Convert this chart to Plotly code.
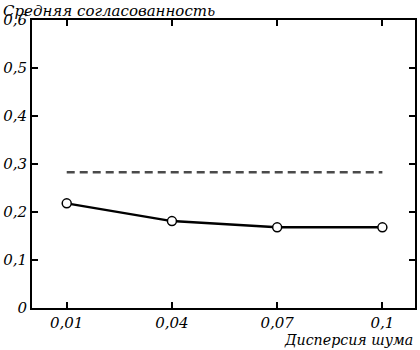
import plotly.graph_objects as go

categories = ["0,01", "0,04", "0,07", "0,1"]
consistency = [0.218, 0.181, 0.168, 0.168]
reference_level = [0.283, 0.283, 0.283, 0.283]
y_ticks = [0, 0.1, 0.2, 0.3, 0.4, 0.5, 0.6]
y_tick_labels = ["0", "0,1", "0,2", "0,3", "0,4", "0,5", "0,6"]

x_pos = list(range(len(categories)))
font = dict(family="DejaVu Serif", size=15, color="black", style="italic")
xlab_font = dict(family="DejaVu Serif", size=14.2, color="black", style="italic")

fig = go.Figure()
fig.add_trace(go.Scatter(x=x_pos, y=reference_level, mode="lines",
                         line=dict(color="#4a4a4a", width=2.5, dash="8px,5px"), showlegend=False))
fig.add_trace(go.Scatter(x=x_pos, y=consistency, mode="lines+markers",
                         line=dict(color="black", width=2.5),
                         marker=dict(symbol="circle", size=9, color="white",
                                     line=dict(color="black", width=1.5)),
                         showlegend=False))

fig.update_layout(
    width=420, height=350,
    margin=dict(l=31, r=3, t=20, b=42),
    plot_bgcolor="white", paper_bgcolor="white",
    font=font,
    xaxis=dict(range=[-0.33, 3.31], tickvals=x_pos, ticktext=categories,
               showline=True, linecolor="black", linewidth=2, mirror="ticks",
               ticks="inside", ticklen=6, tickwidth=1.5, tickcolor="black",
               showgrid=False, zeroline=False, tickfont=font),
    yaxis=dict(range=[0, 0.6], tickvals=y_ticks, ticktext=y_tick_labels,
               showline=True, linecolor="black", linewidth=2, mirror="ticks",
               ticks="inside", ticklen=6, tickwidth=1.5, tickcolor="black",
               showgrid=False, zeroline=False, tickfont=font),
    annotations=[
        dict(text="Средняя согласованность", xref="paper", yref="paper",
             x=-31/386, y=1, xanchor="left", yanchor="bottom", yshift=-2,
             showarrow=False, font=font),
        dict(text="Дисперсия шума", xref="paper", yref="paper",
             x=1, y=0, xanchor="right", yanchor="top", yshift=-22,
             showarrow=False, font=xlab_font),
    ],
)

fig.write_html("out.html", config={"displayModeBar": False},
               post_script="document.body.style.margin='0';")
